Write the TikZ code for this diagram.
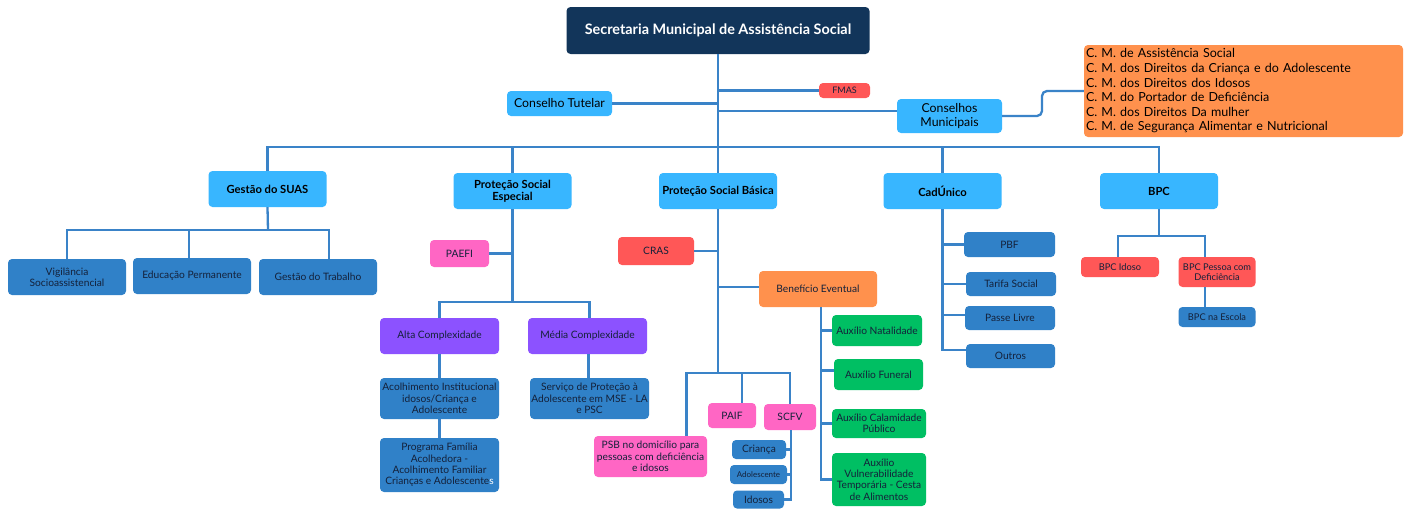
\documentclass[tikz,border=0pt]{standalone}
\usepackage{fontspec}
\setmainfont{Lato}
\usetikzlibrary{calc}
\definecolor{navy}{HTML}{12355A}
\definecolor{lblue}{HTML}{38B6FF}
\definecolor{dblue}{HTML}{3081C8}
\definecolor{cred}{HTML}{FF5757}
\definecolor{cpink}{HTML}{FF66C4}
\definecolor{cpurple}{HTML}{8C52FF}
\definecolor{cgreen}{HTML}{00BF63}
\definecolor{corange}{HTML}{FF914D}
\definecolor{ink}{HTML}{14213A}
\definecolor{lineblue}{HTML}{3A83C8}
\tikzset{
  box/.style={rounded corners=4pt, align=center, inner sep=0pt, text=ink, font=\fontsize{10.2}{11.3}\selectfont},
  lvl/.style={box, fill=lblue, minimum width=118, minimum height=36, font=\bfseries\fontsize{11.2}{12}\selectfont, text=black},
  dbox/.style={box, fill=dblue},
  rbox/.style={box, fill=cred},
  pbox/.style={box, fill=cpink},
  vbox/.style={box, fill=cpurple},
  gbox/.style={box, fill=cgreen},
  obox/.style={box, fill=corange},
  conn/.style={draw=lineblue, line width=2.3pt},
}
\begin{document}
\begin{tikzpicture}[x=1pt, y=-1pt]
\useasboundingbox[fill=white] (0,0) rectangle (1408,509);

% top
\node[box, fill=navy, minimum width=303, minimum height=47, text=white, font=\bfseries\fontsize{14.4}{16}\selectfont] (sec) at (718,30.5) {Secretaria Municipal de Assistência Social};
\node[rbox, minimum width=51, minimum height=15, font=\fontsize{9}{10}\selectfont] (fmas) at (844.5,90.5) {FMAS};
\node[box, fill=lblue, minimum width=105, minimum height=25, font=\fontsize{12.3}{13.5}\selectfont, text=black] (ct) at (559.5,103.5) {Conselho Tutelar};
\node[box, fill=lblue, minimum width=105, minimum height=34, font=\fontsize{12.3}{13.5}\selectfont, text=black] (cm) at (949.5,116) {Conselhos\\Municipais};
\node[obox, minimum width=319, minimum height=92, align=left, text width=315, inner xsep=2pt, font=\fontsize{12.5}{14.6}\selectfont, text=black] (lst) at (1243.5,91) {C. M. de Assistência Social\\C. M. dos Direitos da Criança e do Adolescente\\C. M. dos Direitos dos Idosos\\C. M. do Portador de Deficiência\\C. M. dos Direitos Da mulher\\C. M. de Segurança Alimentar e Nutricional};

% level 2
\node[lvl] (gs) at (267.5,189) {Gestão do SUAS};
\node[lvl] (pse) at (512.5,191) {Proteção Social\\Especial};
\node[lvl] (psb) at (718,191) {Proteção Social Básica};
\node[lvl] (cad) at (942.5,191) {CadÚnico};
\node[lvl] (bpc) at (1159,191) {BPC};

% top connectors
\coordinate (bus) at (718,147);
\draw[conn] (sec.south) -- (psb.north);
\draw[conn] (gs.north) |- (bus);
\draw[conn] (pse.north) |- (bus);
\draw[conn] (cad.north) |- (bus);
\draw[conn] (bpc.north) |- (bus);
\draw[conn] (fmas.west) -- (fmas.west -| sec.south);
\draw[conn] (ct.east) -- (ct.east -| sec.south);
\draw[conn] ([yshift=5]cm.west) -- ([yshift=5]cm.west -| sec.south);
\draw[conn, rounded corners=5pt] (cm.east) -- (1042,116) -- (1042,91) -- (lst.west);

% Gestao do SUAS
\node[dbox, minimum width=118, minimum height=36] (vig) at (67,277) {Vigilância\\Socioassistencial};
\node[dbox, minimum width=118, minimum height=36] (edu) at (192,276) {Educação Permanente};
\node[dbox, minimum width=118, minimum height=36] (gtr) at (318,277) {Gestão do Trabalho};
\coordinate (gsb) at (268,230);
\draw[conn] (gs.south) -- (gsb);
\draw[conn] (vig.north) |- (gsb);
\draw[conn] ([xshift=-3]edu.north) -- ([xshift=-3]edu.north |- gsb);
\draw[conn] ([xshift=11]gtr.north) |- (gsb);

% Protecao Social Especial
\node[pbox, minimum width=59, minimum height=27] (paefi) at (459.5,253.5) {PAEFI};
\node[vbox, minimum width=119, minimum height=36] (alta) at (439.5,336) {Alta Complexidade};
\node[vbox, minimum width=119, minimum height=36] (media) at (587.5,336) {Média Complexidade};
\node[dbox, minimum width=119, minimum height=41] (acol) at (439.5,398.5) {Acolhimento Institucional\\idosos/Criança e\\Adolescente};
\node[dbox, minimum width=119, minimum height=41] (serv) at (589.5,398.5) {Serviço de Proteção à\\Adolescente em MSE - LA\\e PSC};
\node[dbox, minimum width=119, minimum height=54] (prog) at (439.5,465) {Programa Família\\Acolhedora -\\Acolhimento Familiar\\Crianças e Adolescente{\color{white}s}};
\coordinate (pseb) at (512.5,302);
\draw[conn] (pse.south) -- (pseb);
\draw[conn] (paefi.east) -- (paefi.east -| pse.south);
\draw[conn] (alta.north) |- (pseb);
\draw[conn] ([xshift=2]media.north) |- (pseb);
\draw[conn] (alta.south) -- (acol.north);
\draw[conn] (acol.south) -- (prog.north);
\draw[conn] ([xshift=1]media.south) -- ([xshift=1]media.south |- serv.north);

% Protecao Social Basica
\node[rbox, minimum width=76, minimum height=28] (cras) at (656,251) {CRAS};
\node[obox, minimum width=118, minimum height=36] (be) at (818,289) {Benefício Eventual};
\node[gbox, minimum width=90, minimum height=31] (nat) at (877,330.5) {Auxílio Natalidade};
\node[gbox, minimum width=89, minimum height=31] (fun) at (878.5,374.5) {Auxílio Funeral};
\node[gbox, minimum width=94, minimum height=29] (cal) at (879,423.5) {Auxílio Calamidade\\Público};
\node[gbox, minimum width=94, minimum height=53] (vul) at (879,479.5) {Auxílio\\Vulnerabilidade\\Temporária - Cesta\\de Alimentos};
\node[pbox, minimum width=113, minimum height=41] (psbd) at (650.5,456.5) {PSB no domicílio para\\pessoas com deficiência\\e idosos};
\node[pbox, minimum width=48, minimum height=25] (paif) at (732,415.5) {PAIF};
\node[pbox, minimum width=52, minimum height=26] (scfv) at (790,417) {SCFV};
\node[dbox, minimum width=54, minimum height=19] (cri) at (759,449.5) {Criança};
\node[dbox, minimum width=57, minimum height=19, font=\fontsize{8}{9}\selectfont] (ado) at (758.5,474.5) {Adolescente};
\node[dbox, minimum width=51, minimum height=18] (ido) at (758.5,499.5) {Idosos};
\coordinate (psbb) at (718,373);
\draw[conn] (psb.south) -- (psbb);
\draw[conn] (cras.east) -- (cras.east -| psb.south);
\draw[conn] ([yshift=2]be.west) -- ([yshift=2]be.west -| psb.south);
\draw[conn] ([xshift=36]psbd.north) |- (psbb);
\draw[conn] ([xshift=10]paif.north) -- ([xshift=10]paif.north |- psbb);
\draw[conn] (scfv.north) |- (psbb);
\coordinate (bev) at (821,307);
\draw[conn] (bev) |- (vul.west);
\draw[conn] (nat.west) -- (nat.west -| bev);
\draw[conn] ([yshift=4]fun.west) -- ([yshift=4]fun.west -| bev);
\draw[conn] (cal.west) -- (cal.west -| bev);
\coordinate (scv) at (791,430);
\draw[conn] (scv) |- (ido.east);
\draw[conn] (cri.east) -- (cri.east -| scv);
\draw[conn] (ado.east) -- (ado.east -| scv);

% CadUnico
\node[dbox, minimum width=91, minimum height=25] (pbf) at (1009.5,244.5) {PBF};
\node[dbox, minimum width=90, minimum height=24] (tar) at (1011,284) {Tarifa Social};
\node[dbox, minimum width=90, minimum height=24] (pas) at (1010,318) {Passe Livre};
\node[dbox, minimum width=89, minimum height=24] (out) at (1010.5,356) {Outros};
\draw[conn] (cad.south) |- ([yshift=6]out.west);
\draw[conn] (pbf.west) -- (pbf.west -| cad.south);
\draw[conn] (tar.west) -- (tar.west -| cad.south);
\draw[conn] ([yshift=3]pas.west) -- ([yshift=3]pas.west -| cad.south);

% BPC
\node[rbox, minimum width=78, minimum height=20, font=\fontsize{9.3}{10.5}\selectfont] (bid) at (1120,267) {BPC Idoso};
\node[rbox, minimum width=77, minimum height=30, font=\fontsize{9.3}{10.5}\selectfont] (bpd) at (1217,272) {BPC Pessoa com\\Deficiência};
\node[dbox, minimum width=77, minimum height=20, font=\fontsize{9.3}{10.5}\selectfont] (esc) at (1217,317) {BPC na Escola};
\coordinate (bpcb) at (1159,236);
\draw[conn] (bpc.south) -- (bpcb);
\draw[conn] ([xshift=-2]bid.north) |- (bpcb);
\draw[conn] ([xshift=-12]bpd.north) |- (bpcb);
\draw[conn] ([xshift=-12]bpd.south) -- ([xshift=-12]esc.north);
\end{tikzpicture}
\end{document}
